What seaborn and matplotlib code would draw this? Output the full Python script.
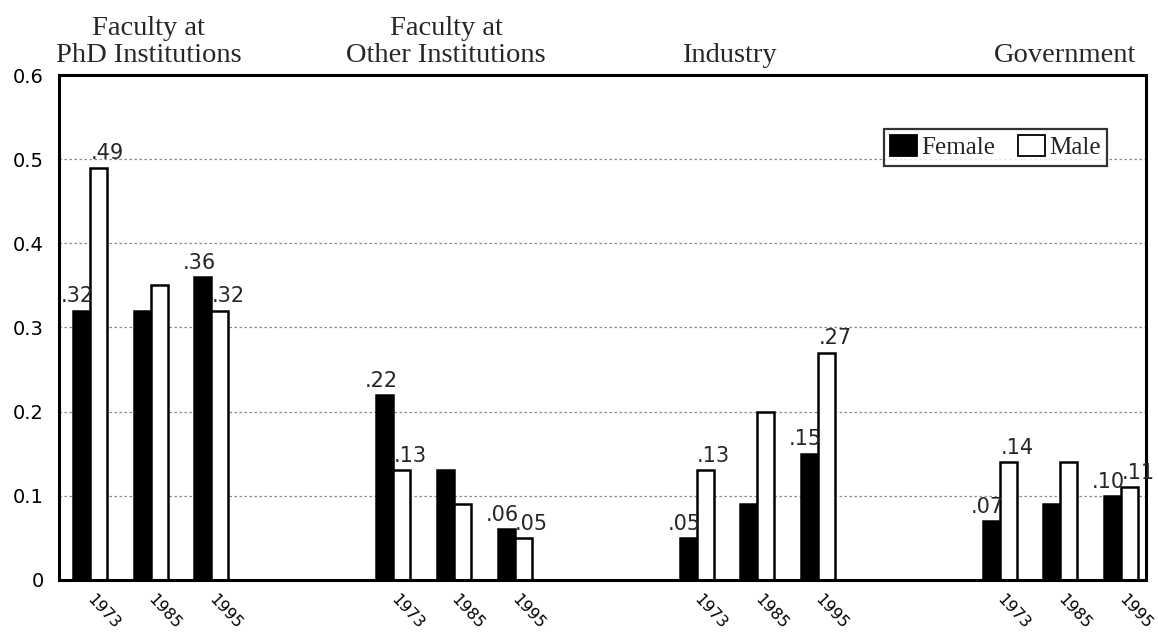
import matplotlib
matplotlib.use("Agg")
import matplotlib.pyplot as plt
import matplotlib.transforms as mtransforms
from matplotlib.patches import Patch
import pandas as pd
import seaborn as sns

# ---- data ----
groups = ["Faculty at\nPhD Institutions", "Faculty at\nOther Institutions",
          "Industry", "Government"]
years = ["1973", "1985", "1995"]
female = [[0.32, 0.32, 0.36],
          [0.22, 0.13, 0.06],
          [0.05, 0.09, 0.15],
          [0.07, 0.09, 0.10]]
male = [[0.49, 0.35, 0.32],
        [0.13, 0.09, 0.05],
        [0.13, 0.20, 0.27],
        [0.14, 0.14, 0.11]]
labelled_years = ["1973", "1995"]
yticks = [0, 0.1, 0.2, 0.3, 0.4, 0.5, 0.6]
ytick_labels = ["0", "0.1", "0.2", "0.3", "0.4", "0.5", "0.6"]

# ---- layout ----
group_step = 5                       # slots between group starts
title_shift = [-0.03, -0.13, -0.46, 0.08]
serif = "Liberation Serif"
sans = "DejaVu Sans"

rows = []
for g, name in enumerate(groups):
    for i, yr in enumerate(years):
        pos = g * group_step + i
        rows.append({"pos": pos, "year": yr, "sex": "Female", "value": female[g][i]})
        rows.append({"pos": pos, "year": yr, "sex": "Male", "value": male[g][i]})
df = pd.DataFrame(rows)

sns.set_style("white")
fig, ax = plt.subplots(figsize=(11.58, 6.33), dpi=100)
fig.subplots_adjust(left=0.051, right=0.9896, bottom=0.084, top=0.8815)

sns.barplot(data=df, x="pos", y="value", hue="sex", hue_order=["Female", "Male"],
            native_scale=True, palette={"Female": "black", "Male": "white"},
            saturation=1, edgecolor="black", linewidth=1.8, width=0.56,
            legend=False, ax=ax)

ax.set_xlim(-0.51, 17.41)
ax.set_ylim(0, 0.6)
ax.set_xlabel("")
ax.set_ylabel("")

for sp in ax.spines.values():
    sp.set_visible(True)
    sp.set_color("black")
    sp.set_linewidth(2.2)

ax.yaxis.grid(True, linestyle=(0, (2, 2)), color="#8a8a8a", linewidth=0.9)
ax.xaxis.grid(False)
ax.set_axisbelow(True)

ax.set_yticks(yticks)
ax.set_yticklabels(ytick_labels, fontfamily=sans, fontsize=14, color="black")
# year labels sit a little left of each bar pair
ticks = sorted(df["pos"].unique())
ax.set_xticks([t - 0.09 for t in ticks])
ax.set_xticklabels(years * len(groups), fontfamily=sans, fontsize=11.5,
                   color="black", rotation=-47, ha="left", va="top")
ax.tick_params(axis="y", length=0, pad=11)
ax.tick_params(axis="x", length=0, pad=8.5)

# value labels on 1973 and 1995 bars
for cont, sex in zip(ax.containers, ["Female", "Male"]):
    sub = df[df["sex"] == sex].sort_values("pos")
    for bar, (_, r) in zip(cont, sub.iterrows()):
        if r["year"] not in labelled_years:
            continue
        txt = "." + f"{r['value']:.2f}".split(".")[1]
        top = bar.get_height()
        if sex == "Female":
            ax.annotate(txt, (bar.get_x() + bar.get_width() + 0.07, top),
                        xytext=(0, 3), textcoords="offset points",
                        ha="right", va="bottom", fontfamily=sans, fontsize=15)
        else:
            ax.annotate(txt, (bar.get_x() + 0.01, top),
                        xytext=(0, 3), textcoords="offset points",
                        ha="left", va="bottom", fontfamily=sans, fontsize=15)

# group titles above the plot
trans = mtransforms.blended_transform_factory(ax.transData, ax.transAxes)
for g, name in enumerate(groups):
    ax.text(g * group_step + 1 + title_shift[g], 1.014, name, transform=trans,
            ha="center", va="bottom", fontfamily=serif, fontsize=20.5,
            linespacing=1.12)

handles = [Patch(facecolor="black", edgecolor="black", linewidth=1.3),
           Patch(facecolor="white", edgecolor="black", linewidth=1.3)]
leg = ax.legend(handles, ["Female", "Male"], ncol=2, loc="upper right",
                bbox_to_anchor=(0.964, 0.893), frameon=True, fancybox=False,
                handlelength=1.1, handleheight=0.9, handletextpad=0.15,
                columnspacing=0.9, borderpad=0.25, borderaxespad=0,
                prop={"family": serif, "size": 18})
leg.get_frame().set_edgecolor("black")
leg.get_frame().set_linewidth(1.6)

fig.savefig("out.png", dpi=100)
